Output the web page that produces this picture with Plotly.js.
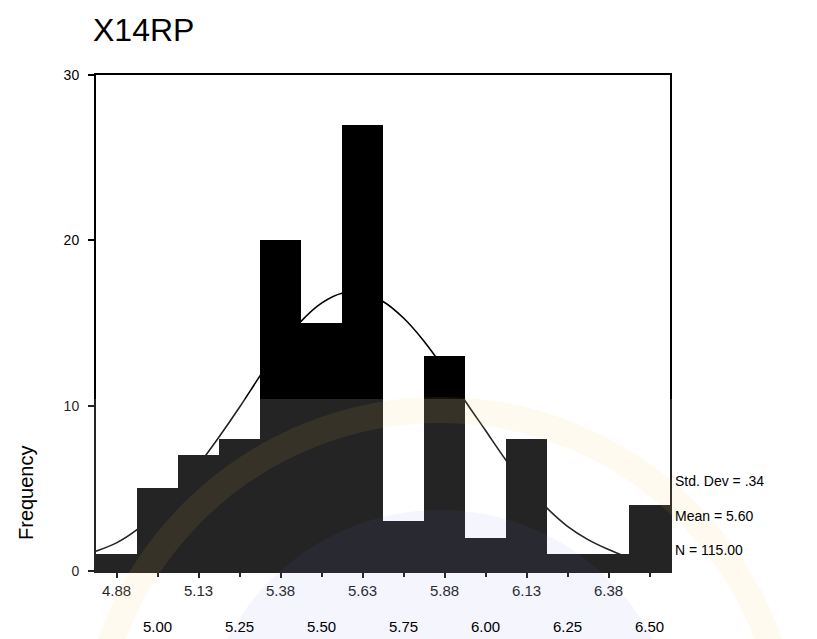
<!DOCTYPE html>
<html>
<head>
<meta charset="utf-8">
<script src="https://cdn.plot.ly/plotly-3.0.1.min.js"></script>
<style>html,body{margin:0;padding:0;background:#fff;}#chart{width:817px;height:639px;}</style>
</head>
<body>
<div id="chart"></div>
<script>
// ---- data ----
var binCenters = [4.875, 5.0, 5.125, 5.25, 5.375, 5.5, 5.625, 5.75, 5.875, 6.0, 6.125, 6.25, 6.375, 6.5];
var frequencies = [1, 5, 7, 8, 20, 15, 27, 3, 13, 2, 8, 1, 1, 4];
var topTickPos = [4.875, 5.125, 5.375, 5.625, 5.875, 6.125, 6.375];
var topTickText = ["4.88", "5.13", "5.38", "5.63", "5.88", "6.13", "6.38"];
var bottomTickPos = [5.0, 5.25, 5.5, 5.75, 6.0, 6.25, 6.5];
var bottomTickText = ["5.00", "5.25", "5.50", "5.75", "6.00", "6.25", "6.50"];
var yTickVals = [0, 10, 20, 30];
var curveX = [4.8125, 4.875, 4.9375, 5.0, 5.0625, 5.125, 5.1875, 5.25, 5.3125, 5.375, 5.4375, 5.5, 5.5625, 5.625, 5.6875, 5.75, 5.8125, 5.875, 5.9375, 6.0, 6.0625, 6.125, 6.1875, 6.25, 6.3125, 6.375, 6.4375, 6.5, 6.5625];
var curveY = [1.2, 1.7, 2.5, 3.6, 4.8, 6.4, 8.1, 9.9, 11.8, 13.6, 15.1, 16.2, 16.8, 16.8, 16.3, 15.3, 13.9, 12.2, 10.3, 8.5, 6.7, 5.1, 3.8, 2.7, 1.9, 1.3, 0.8, 0.5, 0.3];
var statLines = ["Std. Dev = .34", "Mean = 5.60", "N = 115.00"];
var titleText = "X14RP";
var yTitle = "Frequency";

// ---- layout helpers (pixel -> paper) ----
var W = 817, H = 639, L = 96, R = 147, T = 75, B = 68;
var pw = W - L - R, ph = H - T - B;
function px(x) { return (x - L) / pw; }
function py(y) { return (H - B - y) / ph; }
var FONT = 'Liberation Sans, Arial, sans-serif';

var traces = [
  {type: 'bar', x: binCenters, y: frequencies, width: 0.125,
   marker: {color: '#000000', line: {width: 0}}, hoverinfo: 'x+y'},
  {type: 'scatter', mode: 'lines', x: curveX, y: curveY,
   line: {color: '#000000', width: 1.6, shape: 'spline'}, hoverinfo: 'skip'}
];

var annotations = bottomTickText.map(function (t, i) {
  return {x: bottomTickPos[i], xref: 'x', y: py(626), yref: 'paper', text: t,
          showarrow: false, xanchor: 'center', yanchor: 'middle',
          font: {family: FONT, size: 15, color: '#000'}};
});
var statY = [481, 516, 550];
statLines.forEach(function (t, i) {
  annotations.push({x: px(673), xref: 'paper', y: py(statY[i]), yref: 'paper', text: t,
    showarrow: false, xanchor: 'left', yanchor: 'middle',
    font: {family: FONT, size: 14, color: '#000'}});
});
annotations.push({x: px(26), xref: 'paper', y: py(493), yref: 'paper', text: yTitle,
  textangle: -90, showarrow: false, xanchor: 'center', yanchor: 'middle',
  font: {family: FONT, size: 20, color: '#000'}});

var shapes = [
  // faint watermark seal (lower part of the scan)
  {type: 'rect', xref: 'paper', yref: 'paper', x0: px(0), x1: px(W), y0: py(H), y1: py(399),
   fillcolor: 'rgba(255,255,255,0.14)', line: {width: 0}, layer: 'above'},
  {type: 'circle', xref: 'paper', yref: 'paper', x0: px(90), x1: px(790), y0: py(1110), y1: py(410),
   fillcolor: 'rgba(0,0,0,0)', line: {color: 'rgba(245,205,90,0.09)', width: 26}, layer: 'above'},
  {type: 'circle', xref: 'paper', yref: 'paper', x0: px(200), x1: px(680), y0: py(990), y1: py(510),
   fillcolor: 'rgba(110,120,225,0.07)', line: {width: 0}, layer: 'above'}
];

var layout = {
  width: W, height: H,
  margin: {l: L, r: R, t: T, b: B, pad: 0},
  paper_bgcolor: '#ffffff', plot_bgcolor: '#ffffff',
  showlegend: false, bargap: 0,
  font: {family: FONT, color: '#000'},
  title: {text: titleText, x: 93 / W, xanchor: 'left', xref: 'container',
          y: 1 - 30 / H, yanchor: 'middle', yref: 'container',
          font: {family: FONT, size: 32, color: '#000'}},
  xaxis: {range: [4.8125, 6.5625], tickvals: topTickPos, ticktext: topTickText,
          ticks: 'outside', ticklen: 5, tickwidth: 2, tickcolor: '#000',
          showline: true, linecolor: '#000', linewidth: 2, mirror: true,
          showgrid: false, zeroline: false, fixedrange: true,
          tickfont: {size: 15, color: '#000'},
          minor: {tickvals: bottomTickPos, ticks: 'outside', ticklen: 4, tickwidth: 2, tickcolor: '#000'}},
  yaxis: {range: [0, 30], tickvals: yTickVals, ticks: 'outside', ticklen: 6, tickwidth: 2,
          tickcolor: '#000', showline: true, linecolor: '#000', linewidth: 2, mirror: true,
          showgrid: false, zeroline: false, fixedrange: true, ticklabelstandoff: 6,
          tickfont: {size: 14, color: '#000'}},
  annotations: annotations,
  shapes: shapes
};

Plotly.newPlot('chart', traces, layout, {displayModeBar: false, staticPlot: true});
</script>
</body>
</html>
